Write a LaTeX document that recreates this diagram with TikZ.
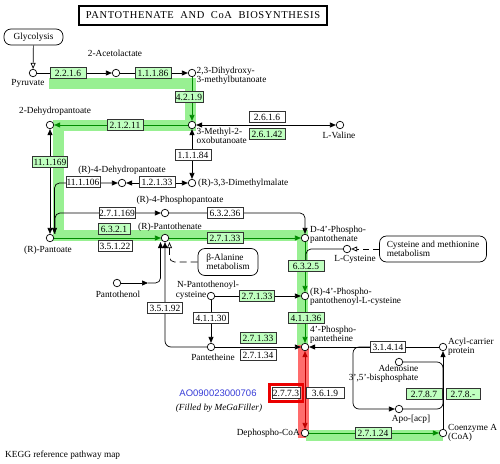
\documentclass[tikz,border=0pt]{standalone}
\usepackage{fontspec}
\setmainfont{Liberation Serif}
\newfontfamily\aofont{Liberation Sans}
\newfontfamily\titlefont[LetterSpace=6]{Liberation Serif}
\usetikzlibrary{arrows.meta}
\definecolor{ecgreen}{RGB}{191,255,191}
\definecolor{hlgreen}{RGB}{152,240,146}
\definecolor{dkgreen}{RGB}{0,140,0}
\definecolor{hlred}{RGB}{255,108,108}
\definecolor{dkred}{RGB}{190,0,0}
\definecolor{boxred}{RGB}{235,0,0}
\definecolor{aoblue}{RGB}{55,60,215}
\pgfdeclarelayer{hl}
\pgfdeclarelayer{bg}
\pgfsetlayers{hl,bg,main}

\begin{document}
\begin{tikzpicture}[x=1pt, y=-1pt,
  cpd/.style={draw, circle, fill=white, inner sep=0pt, minimum size=7.5pt, line width=0.7pt},
  ec/.style={draw=black!80, fill=white, inner sep=0pt, minimum width=36pt, minimum height=11pt, line width=0.6pt, font=\fontsize{9.5}{9.5}\selectfont},
  gec/.style={ec, fill=ecgreen},
  lbl/.style={inner sep=0pt, font=\fontsize{9.3}{9}\selectfont, align=left},
  pmap/.style={draw, rounded corners=7pt, line width=0.7pt, inner sep=0pt, font=\fontsize{9.3}{9}\selectfont, align=left},
  rx/.style={line width=0.7pt, -{Triangle[length=6pt,width=5pt]}},
  rxx/.style={line width=0.7pt, {Triangle[length=6pt,width=5pt]}-{Triangle[length=6pt,width=5pt]}},
  grx/.style={rx, draw=dkgreen},
  rrx/.style={rxx, draw=dkred},
  opn/.style={line width=0.7pt, -{Triangle[open,length=6pt,width=5pt]}},
  link/.style={opn, dashed, dash pattern=on 6pt off 4pt},
  band/.style={line width=11pt}]
\useasboundingbox (0,0) rectangle (500,463);

\node[draw, line width=2pt, minimum width=248pt, minimum height=19pt, inner sep=0pt, font=\titlefont\fontsize{10.5}{10.5}\selectfont] (Title) at (203, 15.5) {PANTOTHENATE\ \ AND\ \ CoA\ \ BIOSYNTHESIS};
\node[pmap, minimum width=59pt, minimum height=16pt, align=center] (Gly) at (33.5, 37) {Glycolysis};
\node[pmap, minimum width=60pt, minimum height=27pt] (Bala) at (228, 262) {β-Alanine\\metabolism};
\node[pmap, minimum width=107pt, minimum height=26pt] (Cysmet) at (433, 249) {Cysteine and methionine\\metabolism};

\node[cpd] (Pyr) at (33, 73) {};
\node[cpd] (Acl) at (116, 73) {};
\node[cpd] (Dhm) at (192, 73) {};
\node[cpd] (Mob) at (192, 125) {};
\node[cpd] (Val) at (340, 125) {};
\node[cpd] (Dhp) at (50, 125) {};
\node[cpd] (Dmm) at (192, 183) {};
\node[cpd] (Dhpt) at (122, 183) {};
\node[cpd] (Ppo) at (165, 213) {};
\node[cpd] (Pant) at (50, 238) {};
\node[cpd] (Ptn) at (165, 238) {};
\node[cpd] (Ppn) at (305, 238) {};
\node[cpd] (Cys) at (347, 249) {};
\node[cpd] (Pol) at (117, 283) {};
\node[cpd] (Npc) at (211, 296) {};
\node[cpd] (Ppc) at (305, 296) {};
\node[cpd] (Ptt) at (211, 347) {};
\node[cpd] (Pptt) at (305, 347) {};
\node[cpd] (Acp) at (443, 347) {};
\node[cpd] (Pap) at (399, 362) {};
\node[cpd] (Apo) at (399, 409) {};
\node[cpd] (Dpc) at (305, 433) {};
\node[cpd] (Coa) at (443, 433) {};
\coordinate (PolM) at (148, 283);
\coordinate (AcpB) at (353, 347);

\node[lbl] (PyrL) at (28, 83.5) {Pyruvate};
\node[lbl] (AclL) at (115, 53.5) {2-Acetolactate};
\node[lbl, anchor=west] (DhmL) at (196.5, 75.5) {2,3-Dihydroxy-\\3-methylbutanoate};
\node[lbl, anchor=west] (MobL) at (196.5, 135.5) {3-Methyl-2-\\oxobutanoate};
\node[lbl] (ValL) at (339, 135.5) {L-Valine};
\node[lbl] (DhpL) at (55, 111.5) {2-Dehydropantoate};
\node[lbl, anchor=west] (DmmL) at (198, 183.5) {(R)-3,3-Dimethylmalate};
\node[lbl] (DhptL) at (122, 170.5) {(R)-4-Dehydropantoate};
\node[lbl] (PpoL) at (180, 200.5) {(R)-4-Phosphopantoate};
\node[lbl] (PantL) at (48, 250.5) {(R)-Pantoate};
\node[lbl] (PtnL) at (170, 227.5) {(R)-Pantothenate};
\node[lbl, anchor=west] (PpnL) at (310, 235) {D-4'-Phospho-\\pantothenate};
\node[lbl] (CysL) at (355, 259.5) {L-Cysteine};
\node[lbl] (PolL) at (118, 294.5) {Pantothenol};
\node[lbl] (NpcL) at (208, 285.5) {N-Pantothenoyl-};
\node[lbl, anchor=east] (NpcL2) at (206.5, 295.5) {cysteine};
\node[lbl, anchor=west] (PpcL) at (310, 296.5) {(R)-4'-Phospho-\\pantothenoyl-L-cysteine};
\node[lbl] (PttL) at (213, 357.5) {Pantetheine};
\node[lbl, anchor=west] (PpttL) at (310, 334.5) {4'-Phospho-\\pantetheine};
\node[lbl, anchor=west] (AcpL) at (448, 346.5) {Acyl-carrier\\protein};
\node[lbl, anchor=north east, align=right] (PapL) at (418.5, 364.5) {Adenosine\\3',5'-bisphosphate};
\node[lbl] (ApoL) at (411, 419.5) {Apo-[acp]};
\node[lbl, anchor=east] (DpcL) at (300, 433.5) {Dephospho-CoA};
\node[lbl, anchor=west] (CoaL) at (448, 432.5) {Coenzyme A\\(CoA)};

\node[gec] (E2216) at (68, 73) {2.2.1.6};
\node[gec] (E11186) at (153, 73) {1.1.1.86};
\node[gec, minimum width=28pt] (E4219) at (189, 97) {4.2.1.9};
\node[ec] (E2616) at (267, 117) {2.6.1.6};
\node[gec] (E26142) at (267, 134) {2.6.1.42};
\node[gec] (E21211) at (125, 125) {2.1.2.11};
\node[ec] (E11184) at (193, 155) {1.1.1.84};
\node[gec, minimum width=35pt] (E111169) at (50, 162) {11.1.169};
\node[ec, minimum width=34pt] (E111106) at (83, 182) {11.1.106};
\node[ec] (E12133) at (157, 182) {1.2.1.33};
\node[ec] (E271169) at (117, 213) {2.7.1.169};
\node[ec] (E63236) at (225, 213) {6.3.2.36};
\node[gec, minimum width=32pt] (E6321) at (114, 229) {6.3.2.1};
\node[ec, minimum width=34pt] (E35122) at (115, 246) {3.5.1.22};
\node[gec] (E27133a) at (225, 238) {2.7.1.33};
\node[gec] (E6325) at (306, 266) {6.3.2.5};
\node[ec, minimum width=35pt] (E35192) at (165, 308) {3.5.1.92};
\node[gec, minimum width=35pt] (E27133b) at (257, 296) {2.7.1.33};
\node[ec, minimum width=35pt] (E41130) at (211, 318) {4.1.1.30};
\node[gec] (E41136) at (306, 318) {4.1.1.36};
\node[gec] (E27133c) at (258, 338) {2.7.1.33};
\node[ec] (E27134) at (258, 355) {2.7.1.34};
\node[ec, minimum width=35pt] (E31414) at (388, 347) {3.1.4.14};
\node[gec] (E2787) at (424, 394) {2.7.8.7};
\node[gec, minimum width=34pt] (E278x) at (463, 394) {2.7.8.-};
\node[gec] (E27124) at (373, 433) {2.7.1.24};
\node[ec, minimum width=28pt] (E2773) at (286, 393) {2.7.7.3};
\node[ec, minimum width=38pt] (E3619) at (325, 393) {3.6.1.9};
\draw[boxred, line width=2.6pt] ([shift={(-2.5,-2.5)}]E2773.north west) rectangle ([shift={(2.5,2.5)}]E2773.south east);

\node[inner sep=0pt, font=\aofont\fontsize{9.5}{9.5}\selectfont, text=aoblue] (AO) at (218, 393) {AO090023000706};
\node[lbl, font=\fontsize{9.3}{9}\selectfont\itshape] (Fill) at (219, 408.5) {(Filled by MeGaFiller)};
\node[lbl, anchor=west] (Kegg) at (5, 455) {KEGG reference pathway map};

\begin{pgfonlayer}{hl}
\draw[band, hlgreen] (49, 83.5) -- (190, 83.5) -- (190, 125.5) -- (58, 125.5) -- (58, 235.5) -- (302.5, 235.5) -- (302.5, 345);
\draw[band, hlred, line cap=butt] (303.5, 345) -- (303.5, 438);
\draw[band, hlgreen] (306, 435.5) -- (443, 435.5);
\end{pgfonlayer}

\begin{pgfonlayer}{bg}
\draw[opn] (Gly) to (Pyr);
\draw[rx] (Pyr) to (Acl);
\draw[rx] (Acl) to (Dhm);
\draw[grx] (Dhm) to (Mob);
\draw[grx] (Mob) to (Dhp);
\draw[rxx] (Mob) to (Val);
\draw[rxx] (Mob) to (Dmm);
\draw[rxx] (Dhp) to (Pant);
\draw[rxx] (Dmm) to (Dhpt);
\draw[rxx, rounded corners=5pt] (Dhpt) -| ([xshift=4.5pt]Pant.north);
\draw[rx, rounded corners=5pt] ([xshift=5pt]Pant.north) |- (Ppo);
\draw[rx, rounded corners=5pt] (Ppo) -| (Ppn);
\draw[grx] (Pant) to (Ptn);
\draw[grx] (Ptn) to (Ppn);
\draw[link, dash pattern=on 7pt off 4pt, rounded corners=5pt] (Bala.west) -| ([xshift=4.5pt]Ptn.south);
\draw[rx] (Pol) to (PolM);
\draw[rx, rounded corners=5pt] (PolM) -| ([xshift=-4.5pt]Ptn.south);
\draw[rx, rounded corners=6pt] (Ptt) -| (Ptn.south);
\draw[grx] (Ppn) to (Ppc);
\draw[line width=0.7pt, rounded corners=5pt] (Cys) -| (E6325.north);
\draw[link] (Cysmet.west) to (Cys);
\draw[rx] (Npc) to (Ppc);
\draw[rx] (Npc) to (Ptt);
\draw[grx] (Ppc) to (Pptt);
\draw[rx] (Ptt) to (Pptt);
\draw[rx] (Acp) to (Pptt);
\draw[rx, rounded corners=6pt] (E31414.west) -| (AcpB |- Apo) to (Apo);
\draw[line width=0.7pt, rounded corners=6pt] (Pap) -| (Acp |- E2787.north);
\draw[line width=0.7pt, rounded corners=6pt] (Apo) -| (Acp |- E2787.south);
\draw[rx] (Coa) to (Acp);
\draw[rrx] (Pptt) to (Dpc);
\draw[grx] (Dpc) to (Coa);
\end{pgfonlayer}
\end{tikzpicture}
\end{document}
